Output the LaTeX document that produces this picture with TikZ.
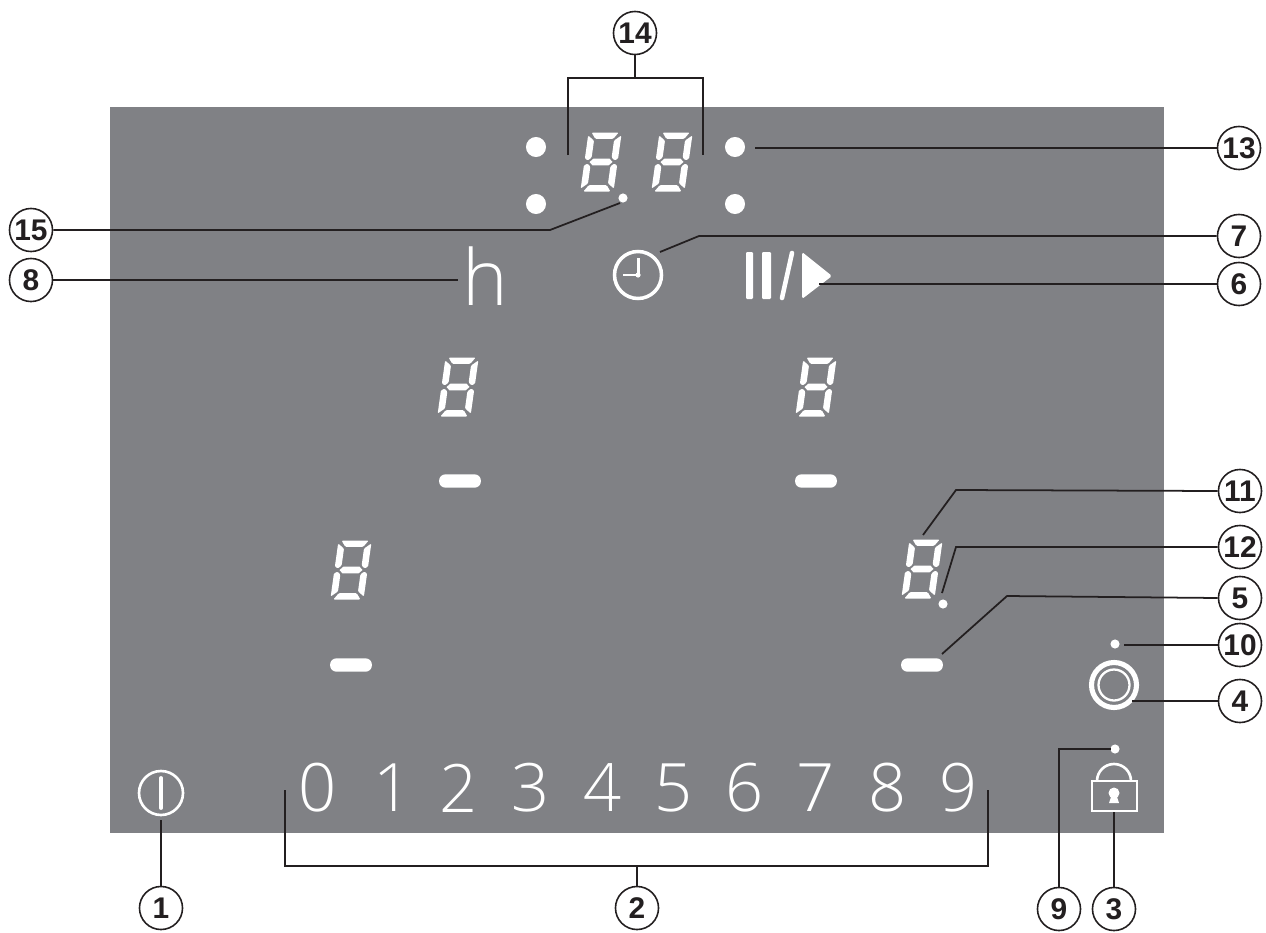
\documentclass[tikz,border=0pt]{standalone}
\usepackage{fontspec}
\setmainfont{Liberation Sans}
\newfontfamily\thinfont{Open Sans Light}
\usetikzlibrary{positioning,calc}
\definecolor{panel}{RGB}{128,129,133}
\definecolor{ink}{RGB}{35,31,32}
\tikzset{
  badge/.style={circle,draw=ink,fill=white,line width=0.9pt,inner sep=0pt,minimum size=24.5pt,
    font=\fontsize{17}{17}\selectfont\bfseries,text=ink},
  leader/.style={draw=ink,line width=1pt,line join=miter},
  stem/.style={draw=ink,line width=0.6pt},
  keydigit/.style={text=white,inner sep=0pt,font=\thinfont\fontsize{38}{38}\selectfont},
  lamp/.style={circle,fill=white,inner sep=0pt,minimum size=#1},
  lamp/.default=5.2pt,
  bar/.style={fill=white,rounded corners=3.6pt,inner sep=0pt,minimum width=23.8pt,minimum height=7.6pt},
  % pictograms
  pics/segdigit/.style={code={
    \begin{scope}[xslant=0.14,white]
      \foreach \s in {1,-1}{
        \fill[rounded corners=0.6pt,yscale=\s] (-13.5,-29.5) -- (13.5,-29.5) -- (9,-23.2) -- (-9,-23.2) -- cycle;
        \foreach \t in {1,-1}
          \fill[rounded corners=0.6pt,xscale=\t,yscale=\s] (-16.6,-26.5) -- (-10,-21.4) -- (-10,-4.6) -- (-13.2,-1.6) -- (-16.6,-3.4) -- cycle;
      }
      \fill (-11.5,0) -- (-8,-3.4) -- (8,-3.4) -- (11.5,0) -- (8,3.4) -- (-8,3.4) -- cycle;
    \end{scope}
  }},
}
\begin{document}
\begin{tikzpicture}[x=0.2mm,y=-0.2mm]
  \useasboundingbox (0,0) rectangle (1266,932);
  \fill[panel] (110,107) rectangle (1164,833);
  % displays and cooking zones
  \foreach \x/\y in {601/162,672/162,458/387,816/387,351/570,922/569}
    \pic at (\x,\y) {segdigit};
  \foreach \x/\y [count=\k] in {460/481,816/481,351/665,922/665}
    \node[bar] (bar\k) at (\x,\y) {};
  \foreach \x/\y [count=\k] in {536/147,536/204,735/147,735/204}
    \node[lamp=11.4pt] (big\k) at (\x,\y) {};
  \node[lamp] (dotclock) at (623,198) {};
  \node[lamp] (dotzone) at (943,604) {};
  \node[lamp] (dotring) at (1115,644) {};
  \node[lamp] (dotlock) at (1115,749) {};
  % slider
  \foreach \d/\x in {0/318,1/393,2/459,3/531,4/603,5/674,6/745,7/816,8/888,9/959}
    \node[keydigit] (key\d) at (\x,788) {\d};
  \node[keydigit,font=\thinfont\fontsize{44}{44}\selectfont] (hour) at (485,276) {h};
  % clock
  \draw[white,line width=2pt] (638,275) circle (23.5);
  \draw[white,line width=1.7pt] (638,258) -- (638,275) -- (623,275);
  \fill[white] (638,275) circle (2.6);
  % pause and play
  \fill[white,rounded corners=0.6pt] (746,252) rectangle (753,299) (762,252) rectangle (771,299);
  \draw[white,line width=2.6pt,line cap=round] (792,253) -- (782,298);
  \fill[white,rounded corners=1pt] (802,252) -- (832,276) -- (802,299) -- cycle;
  % ring
  \draw[white,line width=2.9pt] (1114,685) circle (22.5);
  \draw[white,line width=1.3pt] (1114,685) circle (15.5);
  % lock
  \draw[white,line width=1.5pt] (1092,781) rectangle (1137,811);
  \draw[white,line width=1.5pt] (1097,781) arc (-180:0:17);
  \fill[white] (1114,793) circle (5.5);
  \fill[white] (1112,794) -- (1116,794) -- (1119,803) -- (1109,803) -- cycle;
  % power
  \draw[white,line width=1.5pt] (161,793) circle (22);
  \draw[white,line width=2.2pt,line cap=round] (161,778) -- (161,808);
  % numbered labels
  \foreach \n/\x/\y in {1/161/908,2/637/908,3/1114/909,4/1240/701,5/1240/598,6/1239/284,7/1239/236,
    8/31/280,9/1059/909,10/1240/645,11/1240/491,12/1240/547,13/1239/148,14/635/33,15/31/230}
    \node[badge] (n\n) at (\x,\y) {\n};
  % free ends
  \coordinate (e1) at (161,820);
  \coordinate (e3) at (1114,812);
  \coordinate (e4) at (1132,701);
  \coordinate (e6) at (819,284);
  \coordinate (e7) at (660,252);
  \coordinate (e8) at (458,280);
  \coordinate (e9) at (1111,749);
  \coordinate (e10) at (1124,645);
  \coordinate (e11) at (923,535);
  \coordinate (e12) at (942,593);
  \coordinate (e13) at (755,148);
  \coordinate (e15) at (620,203);
  \coordinate (e5) at (942,654);
  \draw[leader] (n1) -- (e1);
  \draw[leader] (n3) -- (e3);
  \draw[leader] (n4) -- (e4);
  \draw[leader] (n6) -- (e6);
  \draw[leader] (n8) -- (e8);
  \draw[stem] (n13) -- (e13);
  \draw[stem] (n10) -- (e10);
  \draw[leader] (n7.west) -- (699,236) -- (e7);
  \draw[leader] (n15.east) -- (550,230) -- (e15);
  \draw[leader] (n11.west) -- (956,490) -- (e11);
  \draw[leader] (n12.west) -- (956,547) -- (e12);
  \draw[leader] (n5.west) -- (1007,596) -- (e5);
  \draw[leader] (n9.north) -- (1059,749) -- (e9);
  % brackets
  \draw[leader] (568,155) -- (568,78) -- (703,78) -- (703,155);
  \draw[stem] (n14) -- (635,78);
  \draw[leader] (285,790) -- (285,866) -- (988,866) -- (988,790);
  \draw[stem] (n2) -- (637,866);
\end{tikzpicture}
\end{document}
